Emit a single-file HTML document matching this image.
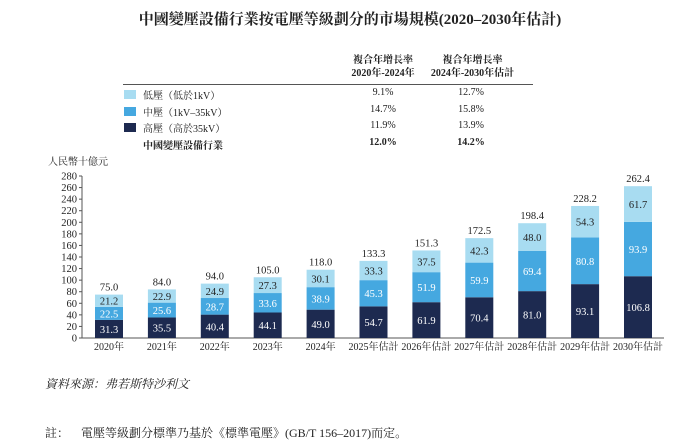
<!DOCTYPE html><html><head><meta charset="utf-8"><style>
body{margin:0;width:700px;height:447px;background:#fff;font-family:"Liberation Serif","Noto Serif CJK SC","Noto Sans CJK TC",serif;color:#222;position:relative;overflow:hidden}
.a{position:absolute;white-space:nowrap}
</style></head><body>
<div class="a" style="left:0;width:700px;text-align:center;top:8px;font-size:15px;font-weight:bold">中國變壓設備行業按電壓等級劃分的市場規模(2020–2030年估計)</div>
<div class="a" style="left:343px;width:80px;text-align:center;top:54px;font-size:10px;font-weight:bold;line-height:13px">複合年增長率<br>2020年-2024年</div>
<div class="a" style="left:425px;width:95px;text-align:center;top:54px;font-size:10px;font-weight:bold;line-height:13px">複合年增長率<br>2024年-2030年估計</div>
<div class="a" style="left:123px;top:84px;width:410px;height:1px;background:#555"></div>
<div id="legend"></div>
<div class="a" style="left:48px;top:153px;font-size:10px">人民幣十億元</div>
<svg id="c" class="a" style="left:0;top:0" width="700" height="447"></svg>
<div class="a" style="left:45px;top:375px;font-size:12px;font-style:italic">資料來源：弗若斯特沙利文</div>
<div class="a" style="left:45px;top:424px;font-size:12px">註：&nbsp;&nbsp;&nbsp;&nbsp;電壓等級劃分標準乃基於《標準電壓》(GB/T 156–2017)而定。</div>
<script>
const legendLabels=["低壓（低於1kV）","中壓（1kV–35kV）","高壓（高於35kV）","中國變壓設備行業"];
const cagr1=["9.1%","14.7%","11.9%","12.0%"];
const cagr2=["12.7%","15.8%","13.9%","14.2%"];
const categories=["2020年","2021年","2022年","2023年","2024年","2025年估計","2026年估計","2027年估計","2028年估計","2029年估計","2030年估計"];
const high=[31.3,35.5,40.4,44.1,49.0,54.7,61.9,70.4,81.0,93.1,106.8];
const mid=[22.5,25.6,28.7,33.6,38.9,45.3,51.9,59.9,69.4,80.8,93.9];
const low=[21.2,22.9,24.9,27.3,30.1,33.3,37.5,42.3,48.0,54.3,61.7];
const totals=[75.0,84.0,94.0,105.0,118.0,133.3,151.3,172.5,198.4,228.2,262.4];
const yTicks=[0,20,40,60,80,100,120,140,160,180,200,220,240,260,280];
const colors=["#a8dcf1","#45a8e0","#1d2a50"];
const lg=document.getElementById('legend');
legendLabels.forEach((t,i)=>{const y=89+i*16.7;const bold=i==3?'font-weight:bold;':'';
 if(i<3){const s=document.createElement('div');s.className='a';s.style.cssText=`left:124px;top:${y+1}px;width:12px;height:9px;background:${colors[i]}`;
 
 lg.appendChild(s);}
 const d=document.createElement('div');d.className='a';d.style.cssText=`left:143px;top:${y-2}px;font-size:10px;${bold}`;d.textContent=t;
 
 lg.appendChild(d);
 [[cagr1,383],[cagr2,471]].forEach(([arr,cx])=>{const e=document.createElement('div');e.className='a';e.style.cssText=`left:${cx-40}px;width:80px;text-align:center;top:${y-2}px;font-size:10px;${bold}`;e.textContent=arr[i];
 
 lg.appendChild(e);});
});
const svg=document.getElementById('c');const NS='http://www.w3.org/2000/svg';
const y0=338,yTop=176,yMax=280,ax=82;
const Y=v=>y0-(v/yMax)*(y0-yTop);
const X=i=>109+i*52.9;
function el(tag,attrs,txt){const e=document.createElementNS(NS,tag);for(const k in attrs)e.setAttribute(k,attrs[k]);if(txt!=null)e.textContent=txt;svg.appendChild(e);return e;}
let e=el('line',{x1:ax,y1:Y(yMax),x2:ax,y2:y0,stroke:'#555','stroke-width':1});


e=el('line',{x1:ax,y1:y0,x2:664,y2:y0,stroke:'#555','stroke-width':1});


yTicks.forEach(v=>{let t=el('line',{x1:ax-3,y1:Y(v),x2:ax,y2:Y(v),stroke:'#555'});
 
 
 t=el('text',{x:ax-5,y:Y(v)+3.5,'text-anchor':'end','font-size':10.5,fill:'#222'},v);
 
 });
const bw=28;
categories.forEach((c,i)=>{const cx=X(i);let base=0;
 [[high,2,'#fff'],[mid,1,'#fff'],[low,0,'#222']].forEach(([arr,ci,tc])=>{const v=arr[i];
  const r=el('rect',{x:cx-bw/2,y:Y(base+v),width:bw,height:Y(base)-Y(base+v),fill:colors[ci]});
  
  
  const t=el('text',{x:cx,y:(Y(base)+Y(base+v))/2+4,'text-anchor':'middle','font-size':10.5,fill:tc},v.toFixed(1));
  
  
  base+=v;});
 let t=el('text',{x:cx,y:Y(totals[i])-4,'text-anchor':'middle','font-size':10.5,fill:'#222'},totals[i].toFixed(1));
 
 
 t=el('text',{x:cx,y:y0+12,'text-anchor':'middle','font-size':10,fill:'#222'},c);
 
 
});
</script></body></html>
